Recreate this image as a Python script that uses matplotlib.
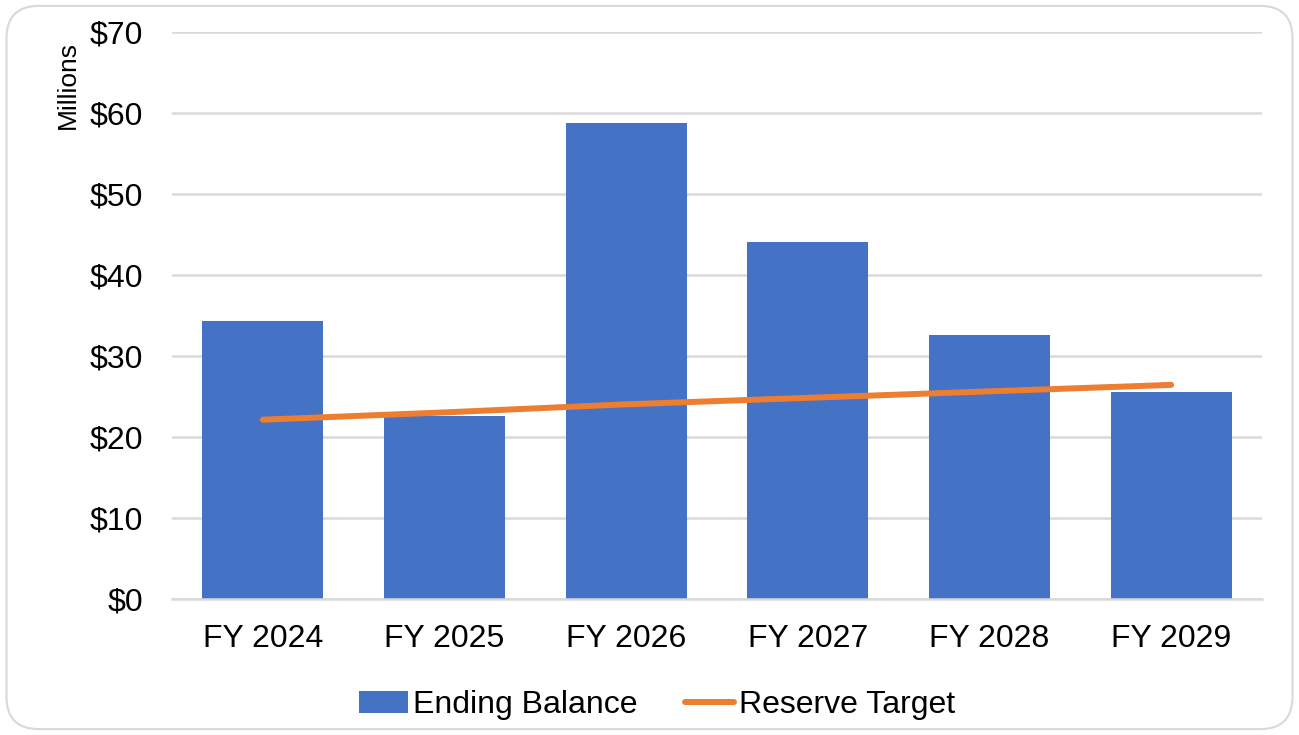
import matplotlib
matplotlib.use("Agg")
import matplotlib.pyplot as plt
from matplotlib.patches import FancyBboxPatch
import numpy as np

categories = ["FY 2024", "FY 2025", "FY 2026", "FY 2027", "FY 2028", "FY 2029"]
ending_balance = [34.3, 22.5, 58.7, 44.0, 32.6, 25.5]
reserve_target = [22.1, 23.0, 24.0, 24.8, 25.6, 26.4]
yticks = [0, 10, 20, 30, 40, 50, 60, 70]
ytick_labels = ["$0", "$10", "$20", "$30", "$40", "$50", "$60", "$70"]

plt.rcParams['font.family'] = ['Liberation Sans', 'DejaVu Sans']

fig = plt.figure(figsize=(12.99, 7.35), dpi=100)
frame = FancyBboxPatch((0.005, 0.008), 0.99, 0.984, boxstyle="round,pad=0,rounding_size=0.025",
                       transform=fig.transFigure, facecolor="white", edgecolor="#D9D9D9",
                       linewidth=1.5, mutation_aspect=1299/735, zorder=-10)
fig.patches.append(frame)

ax = fig.add_axes([0.1324, 0.1854, 0.8391, 0.7715])
ax.set_facecolor("none")
x = np.arange(len(categories))
bars = ax.bar(x, ending_balance, width=0.667, color="#4472C4", label="Ending Balance", zorder=2)
line, = ax.plot(x, reserve_target, color="#ED7D31", linewidth=4.3, solid_capstyle="round",
                label="Reserve Target", zorder=3)

ax.set_xlim(-0.5, len(categories) - 0.5)
ax.set_ylim(0, 70)
ax.set_yticks(yticks)
ax.set_yticklabels(ytick_labels)
ax.set_xticks(x)
ax.set_xticklabels(categories)
ax.tick_params(axis="both", length=0, labelsize=23, colors="black")
ax.tick_params(axis="y", pad=21)
ax.tick_params(axis="x", pad=18)
ax.yaxis.grid(True, color="#D9D9D9", linewidth=1.8, zorder=0)
ax.set_axisbelow(True)
for s in ["top", "right", "left"]:
    ax.spines[s].set_visible(False)
ax.spines["bottom"].set_color("#D9D9D9")
ax.spines["bottom"].set_linewidth(1.8)

fig.text(0.052, 0.884, "Millions", rotation=90, fontsize=19, ha="center", va="center")

fig.legend(handles=[bars, line], labels=["Ending Balance", "Reserve Target"],
           loc="center", bbox_to_anchor=(0.506, 0.041), ncol=2, frameon=False,
           fontsize=23, handlelength=1.52, handleheight=0.67, handletextpad=0.16,
           columnspacing=1.5)

fig.savefig("out.png", dpi=100)
